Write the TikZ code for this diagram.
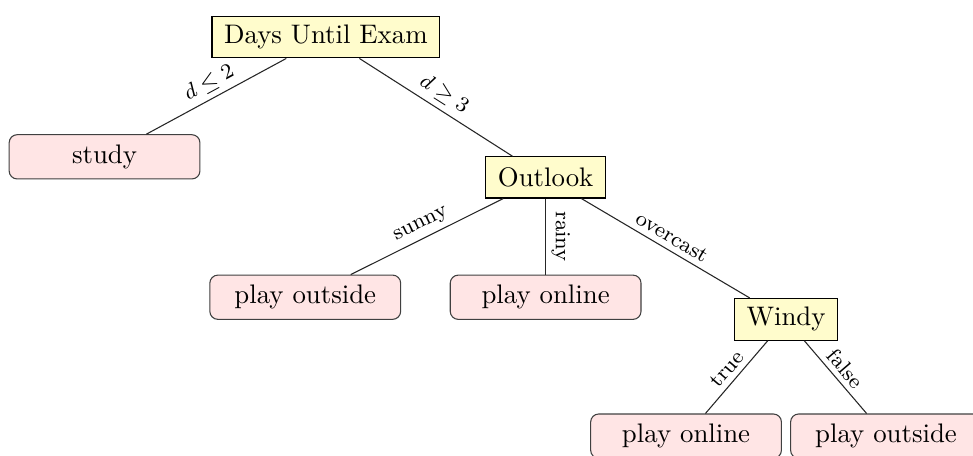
\documentclass[tikz,border=0pt]{standalone}
\usepackage{amsmath,amssymb}
\usetikzlibrary{positioning}
\tikzset{
	testbox/.style={rectangle, draw=black, fill=yellow!20, minimum height=0.54cm,
		inner xsep=4.5pt, inner ysep=3.3pt},
	leafbox/.style={rectangle, draw=black!75, rounded corners=3pt, fill=red!10,
		minimum width=2.5cm, minimum height=0.58cm, inner sep=3pt},
	branch/.style={draw=black!85},
	branchlabel/.style={font=\footnotesize, sloped, above, inner sep=2pt}
}

\begin{document}
\begin{tikzpicture}[on grid]
	\useasboundingbox (-4.27,0.485) rectangle (8.48,-5.49);
	% decision on the days left
	\node[testbox] (days) {Days Until Exam};
	\node[leafbox, below left=1.57cm and 2.90cm of days] (study) {study};
	\node[testbox, below right=1.84cm and 2.88cm of days] (outlook) {Outlook};
	% weather branch
	\node[leafbox, below left=1.57cm and 3.15cm of outlook] (outside) {play outside};
	\node[leafbox, below=1.57cm of outlook] (online) {play online};
	\node[testbox, below right=1.86cm and 3.15cm of outlook] (windy) {Windy};
	\node[leafbox, below left=1.53cm and 1.31cm of windy] (onlinew) {play online};
	\node[leafbox, below right=1.53cm and 1.31cm of windy] (outsidew) {play outside};
	\draw[branch] (days) -- node[branchlabel] {$d \leq 2$} (study);
	\draw[branch] (days) -- node[branchlabel] {$d \geq 3$} (outlook);
	\draw[branch] (outlook) -- node[branchlabel] {sunny} (outside);
	\draw[branch] (outlook) -- node[branchlabel] {rainy} (online);
	\draw[branch] (outlook) -- node[branchlabel] {overcast} (windy);
	\draw[branch] (windy) -- node[branchlabel] {true} (onlinew);
	\draw[branch] (windy) -- node[branchlabel] {false} (outsidew);
\end{tikzpicture}
\end{document}
